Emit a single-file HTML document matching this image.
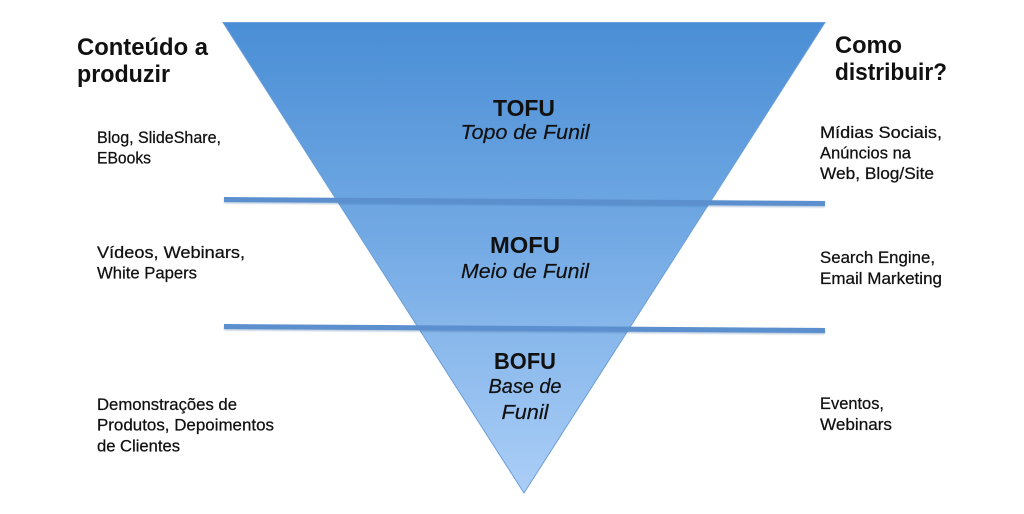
<!DOCTYPE html>
<html>
<head>
<meta charset="utf-8">
<style>
  html,body{margin:0;padding:0;background:#fff;}
  svg{display:block;}
  text{font-family:"Liberation Sans",sans-serif;fill:#111;}
  .h{font-weight:bold;font-size:24px;}
  .b{font-size:16.5px;stroke:#111;stroke-width:0.25px;}
  .c{font-weight:bold;font-size:23px;text-anchor:middle;}
  .i{font-style:italic;font-size:20px;text-anchor:middle;stroke:#111;stroke-width:0.2px;}
</style>
</head>
<body>
<svg width="1024" height="514" viewBox="0 0 1024 514" xmlns="http://www.w3.org/2000/svg">
  <defs>
    <linearGradient id="g" x1="0" y1="0" x2="0" y2="1">
      <stop offset="0" stop-color="#4a8ed5"/>
      <stop offset="0.45" stop-color="#72a9e4"/>
      <stop offset="1" stop-color="#abcef7"/>
    </linearGradient>
    <filter id="sh" x="-5%" y="-50%" width="110%" height="300%">
      <feGaussianBlur stdDeviation="0.8"/>
    </filter>
  </defs>
  <polygon points="223,22.5 825,22.5 524,493" fill="url(#g)" stroke="#6b9fd8" stroke-width="1"/>
  <!-- lines -->
  <line x1="224" y1="200.5" x2="825" y2="204.5" stroke="#3d6fa8" stroke-width="6" opacity="0.35" filter="url(#sh)"/>
  <line x1="224" y1="199.5" x2="825" y2="203.5" stroke="#5b8fcd" stroke-width="5"/>
  <line x1="224" y1="327.5" x2="825" y2="331.5" stroke="#3d6fa8" stroke-width="6" opacity="0.35" filter="url(#sh)"/>
  <line x1="224" y1="326.5" x2="825" y2="330.5" stroke="#5b8fcd" stroke-width="5"/>

  <!-- left headings -->
  <text class="h" x="77" y="55" textLength="131" lengthAdjust="spacingAndGlyphs">Conteúdo a</text>
  <text class="h" x="77" y="82" textLength="93" lengthAdjust="spacingAndGlyphs">produzir</text>
  <!-- right headings -->
  <text class="h" x="835" y="53" textLength="67" lengthAdjust="spacingAndGlyphs">Como</text>
  <text class="h" x="835" y="80" textLength="112" lengthAdjust="spacingAndGlyphs">distribuir?</text>

  <!-- left body -->
  <text class="b" x="97" y="143" textLength="124" lengthAdjust="spacingAndGlyphs">Blog, SlideShare,</text>
  <text class="b" x="97" y="163.5" textLength="54" lengthAdjust="spacingAndGlyphs">EBooks</text>
  <text class="b" x="97" y="258" textLength="148" lengthAdjust="spacingAndGlyphs">Vídeos, Webinars,</text>
  <text class="b" x="97" y="278.5" textLength="100" lengthAdjust="spacingAndGlyphs">White Papers</text>
  <text class="b" x="97" y="410" textLength="140" lengthAdjust="spacingAndGlyphs">Demonstrações de</text>
  <text class="b" x="97" y="430.5" textLength="177" lengthAdjust="spacingAndGlyphs">Produtos, Depoimentos</text>
  <text class="b" x="97" y="451.5" textLength="83" lengthAdjust="spacingAndGlyphs">de Clientes</text>

  <!-- right body -->
  <text class="b" x="820" y="138" textLength="122" lengthAdjust="spacingAndGlyphs">Mídias Sociais,</text>
  <text class="b" x="820" y="158.5" textLength="91" lengthAdjust="spacingAndGlyphs">Anúncios na</text>
  <text class="b" x="820" y="179" textLength="114" lengthAdjust="spacingAndGlyphs">Web, Blog/Site</text>
  <text class="b" x="820" y="263" textLength="115" lengthAdjust="spacingAndGlyphs">Search Engine,</text>
  <text class="b" x="820" y="284" textLength="122" lengthAdjust="spacingAndGlyphs">Email Marketing</text>
  <text class="b" x="820" y="409" textLength="64" lengthAdjust="spacingAndGlyphs">Eventos,</text>
  <text class="b" x="820" y="430" textLength="72" lengthAdjust="spacingAndGlyphs">Webinars</text>

  <!-- center labels -->
  <text class="c" x="524" y="116" textLength="62" lengthAdjust="spacingAndGlyphs">TOFU</text>
  <text class="i" x="525" y="139" textLength="129" lengthAdjust="spacingAndGlyphs">Topo de Funil</text>
  <text class="c" x="525" y="253" textLength="70" lengthAdjust="spacingAndGlyphs">MOFU</text>
  <text class="i" x="525" y="278" textLength="128" lengthAdjust="spacingAndGlyphs">Meio de Funil</text>
  <text class="c" x="525" y="369" textLength="62" lengthAdjust="spacingAndGlyphs">BOFU</text>
  <text class="i" x="525" y="393" textLength="73" lengthAdjust="spacingAndGlyphs">Base de</text>
  <text class="i" x="525" y="419" textLength="47" lengthAdjust="spacingAndGlyphs">Funil</text>
</svg>
</body>
</html>
